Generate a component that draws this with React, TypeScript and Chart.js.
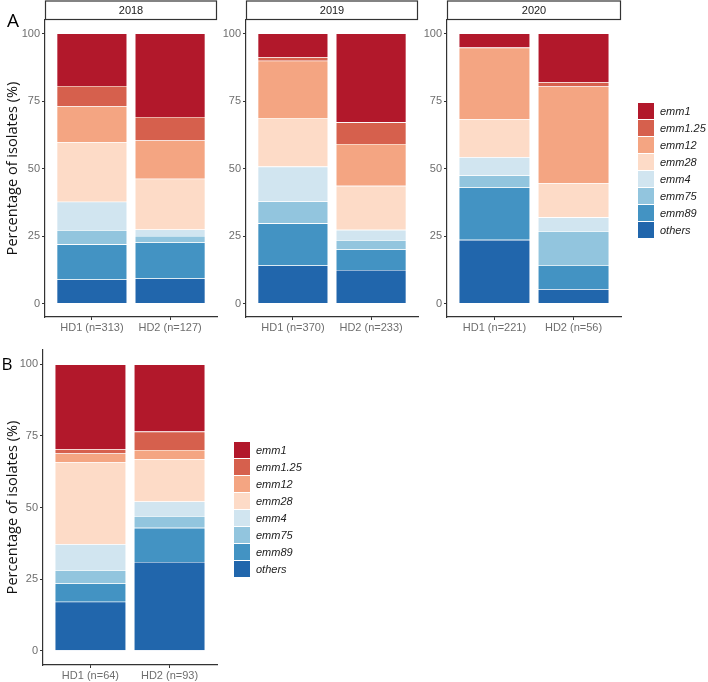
import React, { useEffect, useRef } from 'react';
import { Chart, registerables } from 'chart.js';
Chart.register(...registerables);

// Series (stack order top -> bottom) and colours
const SERIES = ['emm1', 'emm1.25', 'emm12', 'emm28', 'emm4', 'emm75', 'emm89', 'others'];
const COLORS = ['#B2182B', '#D6604D', '#F4A582', '#FDDBC7', '#D1E5F0', '#92C5DE', '#4393C3', '#2166AC'];
const Y_TICKS = [0, 25, 50, 75, 100];
const Y_TITLE = 'Percentage of isolates (%)';

// Panel A – 2018
const LABELS_2018 = ['HD1 (n=313)', 'HD2 (n=127)'];
const HD1_2018 = [19.4, 7.5, 13.3, 22.1, 10.5, 5.3, 13.0, 8.9];
const HD2_2018 = [30.9, 8.7, 14.2, 18.8, 2.4, 2.4, 13.3, 9.3];
// Panel A – 2019
const LABELS_2019 = ['HD1 (n=370)', 'HD2 (n=233)'];
const HD1_2019 = [8.8, 1.3, 21.2, 18.0, 12.9, 8.1, 15.6, 14.1];
const HD2_2019 = [32.9, 8.0, 15.5, 16.3, 3.8, 3.5, 7.6, 12.4];
// Panel A – 2020
const LABELS_2020 = ['HD1 (n=221)', 'HD2 (n=56)'];
const HD1_2020 = [5.2, 0, 26.5, 14.1, 6.8, 4.4, 19.4, 23.6];
const HD2_2020 = [18.0, 1.6, 35.8, 12.7, 5.1, 12.6, 8.9, 5.3];
// Panel B
const LABELS_B = ['HD1 (n=64)', 'HD2 (n=93)'];
const HD1_B = [29.6, 1.5, 3.1, 28.6, 9.1, 4.6, 6.4, 17.1];
const HD2_B = [23.5, 6.4, 3.2, 14.8, 5.1, 4.1, 11.9, 31.0];

const SANS = '"Liberation Sans", Arial, sans-serif';
const TICK_COLOR = '#6e6e6e';
const AXIS_COLOR = '#333333';

type PanelProps = {
  left: number; top: number; width: number; height: number;
  padTop: number; padRight: number; yWidth: number; xHeight: number;
  labels: string[]; hd1: number[]; hd2: number[];
  strip?: string; title?: boolean; legend?: boolean;
  letter?: { text: string; x: number; y: number; size: number };
};

function Panel(p: PanelProps) {
  const ref = useRef<HTMLCanvasElement>(null);
  useEffect(() => {
    const datasets = SERIES.map((name, i) => ({
      label: name,
      data: [{ x: 1, y: p.hd1[i] }, { x: 2, y: p.hd2[i] }],
      backgroundColor: COLORS[i],
      borderColor: 'rgba(255,255,255,0.85)',
      borderWidth: 0.6,
      barPercentage: 0.9,
      categoryPercentage: 1,
    })).reverse();

    const decor = {
      id: 'decor',
      afterDraw(chart: any) {
        const ctx = chart.ctx as CanvasRenderingContext2D;
        const a = chart.chartArea;
        ctx.save();
        if (p.strip) {
          ctx.fillStyle = '#ffffff';
          ctx.fillRect(a.left, 1, a.right - a.left, 18.5);
          ctx.strokeStyle = AXIS_COLOR;
          ctx.lineWidth = 1.2;
          ctx.strokeRect(a.left + 0.5, 1, a.right - a.left - 1, 18.5);
          ctx.fillStyle = '#1a1a1a';
          ctx.font = `11px ${SANS}`;
          ctx.textAlign = 'center';
          ctx.textBaseline = 'middle';
          ctx.fillText(p.strip, (a.left + a.right) / 2, 10.5);
        }
        if (p.legend) {
          const ds = chart.data.datasets.slice().reverse();
          const rowH = 17;
          const top0 = (a.top + a.bottom) / 2 - (rowH * ds.length) / 2 + 2.5;
          const bx = a.right + 17;
          ds.forEach((d: any, i: number) => {
            const y = top0 + i * rowH;
            ctx.fillStyle = d.backgroundColor;
            ctx.fillRect(bx, y, 16, 16);
            ctx.fillStyle = '#222222';
            ctx.font = `italic 11px ${SANS}`;
            ctx.textAlign = 'left';
            ctx.textBaseline = 'middle';
            ctx.fillText(d.label, bx + 22, y + 8.5);
          });
        }
        if (p.letter) {
          ctx.fillStyle = '#000000';
          ctx.font = `${p.letter.size}px "Open Sans", "Noto Sans", sans-serif`;
          ctx.textAlign = 'left';
          ctx.textBaseline = 'alphabetic';
          ctx.fillText(p.letter.text, p.letter.x, p.letter.y);
        }
        ctx.restore();
      },
    };

    const chart = new Chart(ref.current as HTMLCanvasElement, {
      type: 'bar',
      data: { datasets: datasets as any },
      options: {
        responsive: false,
        animation: false,
        devicePixelRatio: 1,
        layout: { padding: { left: 0, top: p.padTop, right: p.padRight, bottom: 0 } },
        plugins: { legend: { display: false }, tooltip: { enabled: false } },
        scales: {
          x: {
            type: 'linear',
            min: 0.4,
            max: 2.6,
            offset: false,
            bounds: 'data',
            stacked: true,
            afterBuildTicks: (s: any) => { s.ticks = p.labels.map((_, i) => ({ value: i + 1 })); },
            afterFit: (s: any) => { s.height = p.xHeight; },
            ticks: {
              autoSkip: false,
              maxRotation: 0,
              padding: 1,
              color: TICK_COLOR,
              font: { family: SANS, size: 11 },
              callback: (_v: any, i: number) => p.labels[i],
            },
            grid: { offset: false, drawOnChartArea: false, drawTicks: true, tickLength: 3, color: AXIS_COLOR },
            border: { display: true, color: AXIS_COLOR, width: 1.2 },
          },
          y: {
            type: 'linear',
            min: -5,
            max: 105,
            stacked: true,
            afterBuildTicks: (s: any) => { s.ticks = Y_TICKS.map((v) => ({ value: v })); },
            afterFit: (s: any) => { s.width = p.yWidth; },
            ticks: {
              padding: 2,
              color: TICK_COLOR,
              font: { family: SANS, size: 11 },
              callback: (v: any) => String(v),
            },
            grid: { drawOnChartArea: false, drawTicks: true, tickLength: 3, color: AXIS_COLOR },
            border: { display: true, color: AXIS_COLOR, width: 1.2 },
            title: {
              display: !!p.title,
              text: Y_TITLE,
              color: '#111111',
              font: { family: '"Open Sans", "Noto Sans", sans-serif', size: 14.6 },
              padding: { top: 4, bottom: 0 },
            },
          },
        },
      },
      plugins: [decor],
    } as any);
    return () => chart.destroy();
  }, []);
  return (
    <canvas
      ref={ref}
      width={p.width}
      height={p.height}
      style={{ position: 'absolute', left: p.left, top: p.top, width: p.width, height: p.height, display: 'block' }}
    />
  );
}

export default function App() {
  return (
    <div style={{ position: 'absolute', left: 0, top: 0, width: 708, height: 682, background: '#ffffff', overflow: 'hidden' }}>
      <Panel left={0} top={0} width={222} height={340} padTop={20} padRight={5} yWidth={45} xHeight={23}
        labels={LABELS_2018} hd1={HD1_2018} hd2={HD2_2018} strip="2018" title
        letter={{ text: 'A', x: 7, y: 27, size: 19 }} />
      <Panel left={218} top={0} width={205} height={340} padTop={20} padRight={5} yWidth={28} xHeight={23}
        labels={LABELS_2019} hd1={HD1_2019} hd2={HD2_2019} strip="2019" />
      <Panel left={420} top={0} width={288} height={340} padTop={20} padRight={87} yWidth={27} xHeight={23}
        labels={LABELS_2020} hd1={HD1_2020} hd2={HD2_2020} strip="2020" legend />
      <Panel left={0} top={340} width={330} height={342} padTop={10} padRight={113} yWidth={43} xHeight={17}
        labels={LABELS_B} hd1={HD1_B} hd2={HD2_B} title legend
        letter={{ text: 'B', x: 1.5, y: 30, size: 17 }} />
    </div>
  );
}
